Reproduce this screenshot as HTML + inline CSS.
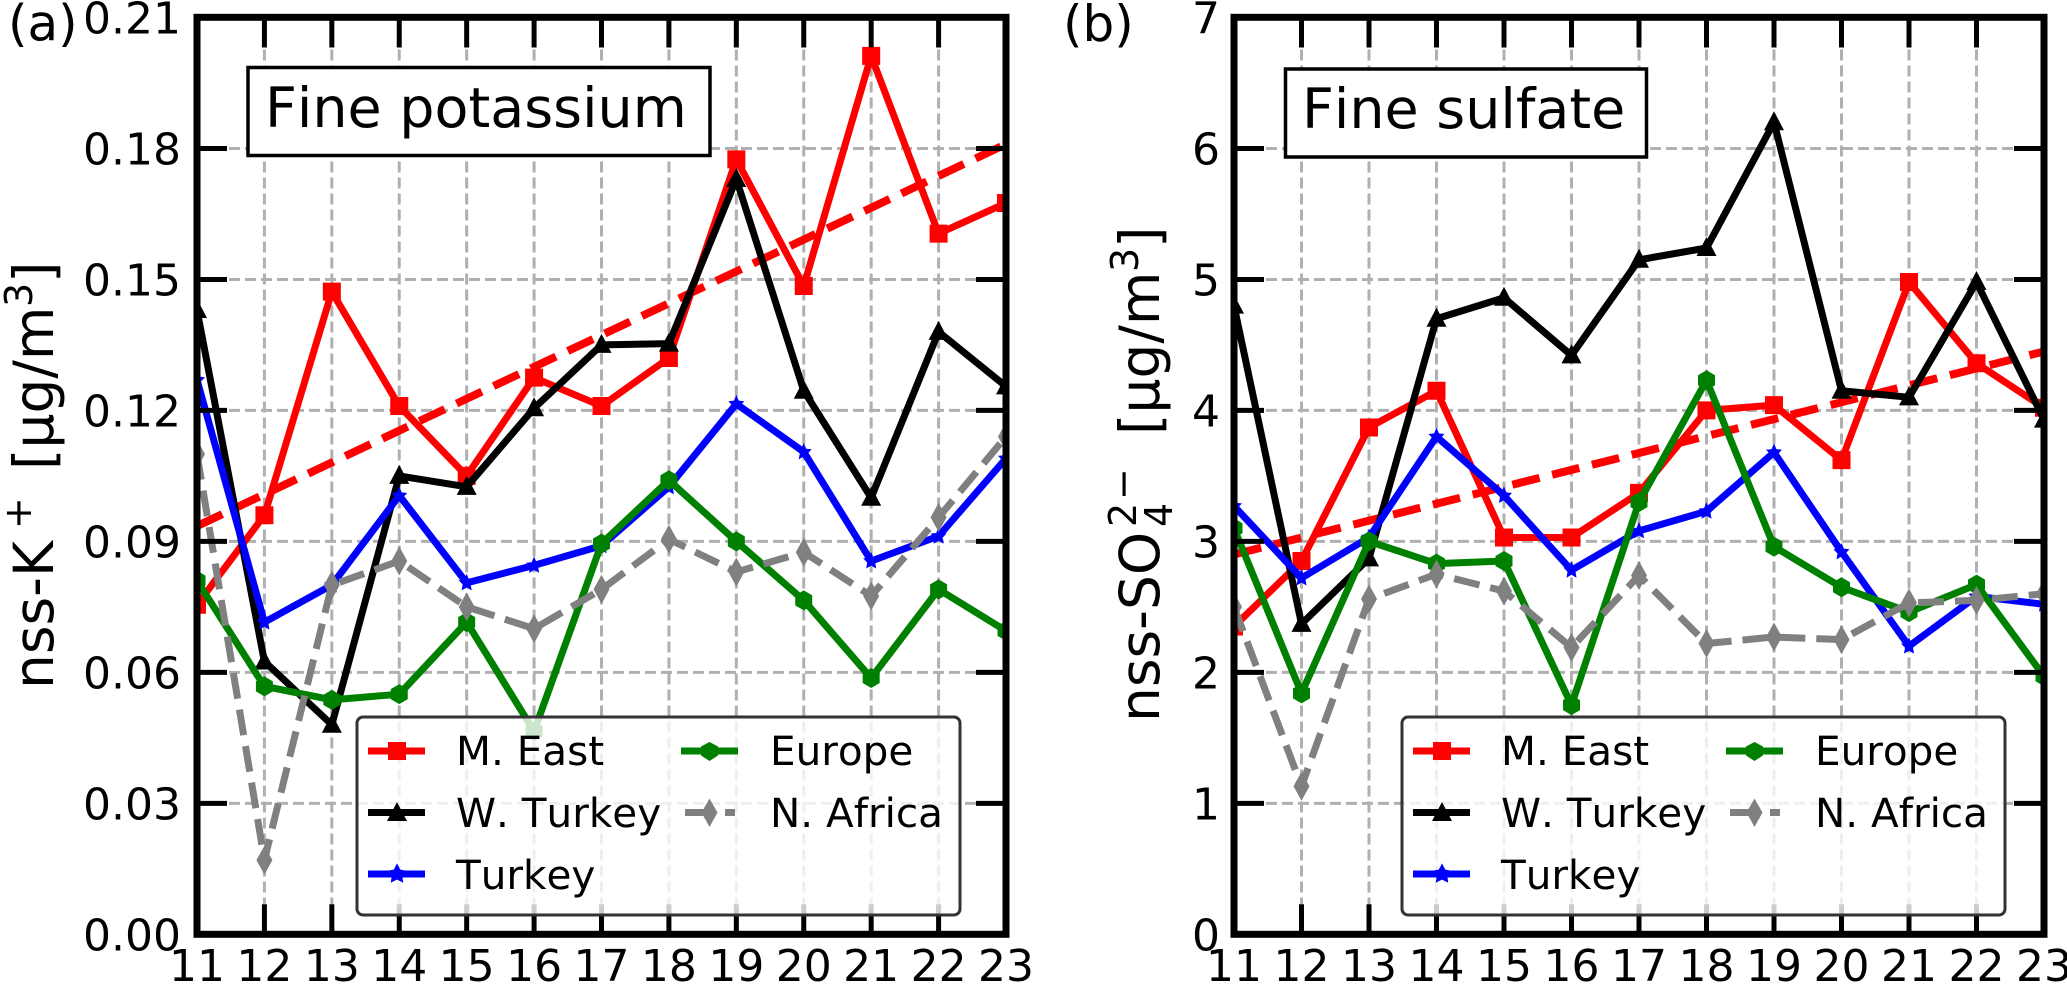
<!DOCTYPE html>
<html lang="en">
<head>
<meta charset="utf-8">
<title>Fine potassium and fine sulfate trends</title>
<style>
  html, body { margin: 0; padding: 0; background: #fff; }
  body { width: 2067px; height: 984px; overflow: hidden; }
  svg { display: block; font-family: "DejaVu Sans", "Liberation Sans", sans-serif; font-kerning: none; }
</style>
</head>
<body>
<svg id="figure" xmlns="http://www.w3.org/2000/svg" width="2067" height="984" viewBox="0 0 2067 984">
  <defs>
    <clipPath id="clip-a"><rect x="197" y="17.5" width="809" height="916.8"/></clipPath>
    <clipPath id="clip-b"><rect x="1234" y="17.5" width="810" height="916.8"/></clipPath>
  </defs>
  <rect x="0" y="0" width="2067" height="984" fill="#fff"/>

  <!-- Panel (a) -->
  <g id="panel-a">
    <g id="grid-a"></g>
    <g id="series-a" clip-path="url(#clip-a)"></g>
    <g id="ticks-a"></g>
    <g>
      <rect x="248" y="67.5" width="462" height="88" fill="#fff" stroke="#000" stroke-width="3.5"/>
      <text x="265" y="127" font-size="55.5" fill="#000">Fine potassium</text>
    </g>
    <g>
      <rect x="357" y="717" width="603" height="198" rx="6" ry="6" fill="#fff" fill-opacity="0.8" stroke="#333" stroke-width="3"/>
      <g>
        <rect x="368" y="747.5" width="57" height="7" fill="#f00"/>
        <rect x="388" y="742" width="18" height="18" fill="#f00"/>
        <text x="456" y="765" font-size="40.5">M. East</text>
      </g>
      <g>
        <rect x="368" y="809" width="57" height="7" fill="#000"/>
        <path d="M397 802 L407 821 L387 821 Z" fill="#000"/>
        <text x="456" y="827" font-size="40.5">W. Turkey</text>
      </g>
      <g>
        <rect x="368" y="870.5" width="57" height="7" fill="#00f"/>
        <path d="M397 865.5 L399.6 870.5 L405 871.5 L401.2 875.4 L402 881 L397 878.5 L392 881 L392.8 875.4 L389 871.5 L394.4 870.5 Z" fill="#00f" stroke="#00f" stroke-width="2"/>
        <text x="456" y="889" font-size="40.5">Turkey</text>
      </g>
      <g>
        <rect x="681" y="747.5" width="57" height="7" fill="#008000"/>
        <path d="M709.5 742 L718 746.5 L718 755.5 L709.5 761 L701 755.5 L701 746.5 Z" fill="#008000"/>
        <text x="770" y="765" font-size="40.5">Europe</text>
      </g>
      <g>
        <rect x="685" y="809" width="20" height="7" fill="#808080"/>
        <rect x="725" y="809" width="10" height="7" fill="#808080"/>
        <path d="M709.5 798.5 L717.5 812.5 L709.5 827 L701.5 812.5 Z" fill="#808080"/>
        <text x="770" y="827" font-size="40.5">N. Africa</text>
      </g>
    </g>
    <rect x="197" y="17.3" width="809" height="917" fill="none" stroke="#000" stroke-width="7"/>
    <text x="8" y="40.5" font-size="50">(a)</text>
    <text transform="translate(53,689) rotate(-90)" font-size="55">nss-K<tspan x="160" dy="-22" font-size="38">+</tspan><tspan x="219" dy="22">[µg/m</tspan><tspan x="382" dy="-21" font-size="38">3</tspan><tspan x="406" dy="21">]</tspan></text>
  </g>

  <!-- Panel (b) -->
  <g id="panel-b">
    <g id="grid-b"></g>
    <g id="series-b" clip-path="url(#clip-b)"></g>
    <g id="ticks-b"></g>
    <g>
      <rect x="1285.5" y="69" width="361" height="88" fill="#fff" stroke="#000" stroke-width="3.5"/>
      <text x="1302" y="128" font-size="55.5" fill="#000">Fine sulfate</text>
    </g>
    <g transform="translate(1045,0)">
      <rect x="357" y="717" width="603" height="198" rx="6" ry="6" fill="#fff" fill-opacity="0.8" stroke="#333" stroke-width="3"/>
      <g>
        <rect x="368" y="747.5" width="57" height="7" fill="#f00"/>
        <rect x="388" y="742" width="18" height="18" fill="#f00"/>
        <text x="456" y="765" font-size="40.5">M. East</text>
      </g>
      <g>
        <rect x="368" y="809" width="57" height="7" fill="#000"/>
        <path d="M397 802 L407 821 L387 821 Z" fill="#000"/>
        <text x="456" y="827" font-size="40.5">W. Turkey</text>
      </g>
      <g>
        <rect x="368" y="870.5" width="57" height="7" fill="#00f"/>
        <path d="M397 865.5 L399.6 870.5 L405 871.5 L401.2 875.4 L402 881 L397 878.5 L392 881 L392.8 875.4 L389 871.5 L394.4 870.5 Z" fill="#00f" stroke="#00f" stroke-width="2"/>
        <text x="456" y="889" font-size="40.5">Turkey</text>
      </g>
      <g>
        <rect x="681" y="747.5" width="57" height="7" fill="#008000"/>
        <path d="M709.5 742 L718 746.5 L718 755.5 L709.5 761 L701 755.5 L701 746.5 Z" fill="#008000"/>
        <text x="770" y="765" font-size="40.5">Europe</text>
      </g>
      <g>
        <rect x="685" y="809" width="20" height="7" fill="#808080"/>
        <rect x="725" y="809" width="10" height="7" fill="#808080"/>
        <path d="M709.5 798.5 L717.5 812.5 L709.5 827 L701.5 812.5 Z" fill="#808080"/>
        <text x="770" y="827" font-size="40.5">N. Africa</text>
      </g>
    </g>
    <rect x="1234" y="17.3" width="810" height="917" fill="none" stroke="#000" stroke-width="7"/>
    <text x="1063" y="41" font-size="50">(b)</text>
    <text transform="translate(1159,722) rotate(-90)" font-size="55">nss-SO<tspan x="195" dy="13" font-size="38">4</tspan><tspan x="195" dy="-36" font-size="38">2</tspan><tspan x="222" font-size="38">−</tspan><tspan x="287" dy="23">[µg/m</tspan><tspan x="450" dy="-21" font-size="38">3</tspan><tspan x="474" dy="21">]</tspan></text>
  </g>
</svg>

<script>
// Shared x categories and tick labels
const years = [11, 12, 13, 14, 15, 16, 17, 18, 19, 20, 21, 22, 23];
const potassiumTicks = ['0.00', '0.03', '0.06', '0.09', '0.12', '0.15', '0.18', '0.21'];
const sulfateTicks = ['0', '1', '2', '3', '4', '5', '6', '7'];

// Panel (a) nss-K+ series
const potassiumMEast = [0.0755, 0.096, 0.1472, 0.121, 0.105, 0.1275, 0.121, 0.132, 0.1775, 0.1485, 0.2012, 0.1605, 0.1675];
const potassiumWTurkey = [0.143, 0.0625, 0.048, 0.105, 0.1025, 0.1205, 0.135, 0.1353, 0.173, 0.1245, 0.1, 0.138, 0.1255];
const potassiumTurkey = [0.127, 0.0715, 0.08, 0.1005, 0.0805, 0.0845, 0.089, 0.1025, 0.1215, 0.1105, 0.0855, 0.0912, 0.109];
const potassiumEurope = [0.081, 0.0568, 0.0537, 0.055, 0.0715, 0.0465, 0.0895, 0.104, 0.09, 0.0765, 0.0587, 0.079, 0.0695];
const potassiumNAfrica = [0.11, 0.017, 0.08, 0.0855, 0.075, 0.07, 0.079, 0.0905, 0.083, 0.0875, 0.0775, 0.0955, 0.114];
const potassiumTrendYears = [11, 23];
const potassiumTrend = [0.0935, 0.181];

// Panel (b) nss-SO4 series
const sulfateMEast = [2.35, 2.85, 3.87, 4.15, 3.03, 3.03, 3.37, 4.0, 4.04, 3.62, 4.98, 4.36, 4.02];
const sulfateWTurkey = [4.8, 2.37, 2.87, 4.7, 4.86, 4.42, 5.15, 5.24, 6.2, 4.15, 4.1, 4.98, 3.93];
const sulfateTurkey = [3.27, 2.72, 3.03, 3.8, 3.35, 2.78, 3.08, 3.23, 3.68, 2.92, 2.2, 2.58, 2.52];
const sulfateEurope = [3.1, 1.84, 3.0, 2.83, 2.85, 1.75, 3.3, 4.23, 2.96, 2.65, 2.46, 2.67, 1.97];
const sulfateNAfrica = [2.5, 1.13, 2.56, 2.75, 2.62, 2.19, 2.74, 2.22, 2.27, 2.25, 2.53, 2.55, 2.6];
const sulfateTrendYears = [11, 23];
const sulfateTrend = [2.9, 4.45];

const NS = 'http://www.w3.org/2000/svg';

function makeEl(tag, attrs) {
  const el = document.createElementNS(NS, tag);
  for (const k in attrs) el.setAttribute(k, attrs[k]);
  return el;
}

const markerPaths = {
  square: 'M-9 -9 H9 V9 H-9 Z',
  triangle: 'M0 -11 L10 8 L-10 8 Z',
  star: 'M0 -9 L2.4 -3.2 L8 -2.6 L4 1.6 L5 7.5 L0 4.6 L-5 7.5 L-4 1.6 L-8 -2.6 L-2.4 -3.2 Z',
  hexagon: 'M0 -10 L8.5 -5 L8.5 5 L0 10 L-8.5 5 L-8.5 -5 Z',
  diamond: 'M0 -14.5 L8 0 L0 14.5 L-8 0 Z'
};

function drawPanel(cfg) {
  const xOf = function (v) { return cfg.left + (v - years[0]) / (years[years.length - 1] - years[0]) * (cfg.right - cfg.left); };
  const yOf = function (v) { return cfg.bottom - (v / cfg.yMax) * (cfg.bottom - cfg.top); };
  const grid = document.getElementById(cfg.gridId);
  const ticks = document.getElementById(cfg.ticksId);
  const host = document.getElementById(cfg.seriesId);

  years.forEach(function (yr) {
    const px = xOf(yr);
    if (yr !== years[0] && yr !== years[years.length - 1]) {
      const g = makeEl('line', { x1: px, x2: px, y1: cfg.top, y2: cfg.bottom, stroke: '#b0b0b0', 'stroke-width': 3, 'stroke-dasharray': '11 5' });
      
      
      grid.appendChild(g);
      const t1 = makeEl('line', { x1: px, x2: px, y1: cfg.bottom, y2: cfg.bottom - 30, stroke: '#000', 'stroke-width': 5 });
      
      
      ticks.appendChild(t1);
      const t2 = makeEl('line', { x1: px, x2: px, y1: cfg.top, y2: cfg.top + 30, stroke: '#000', 'stroke-width': 5 });
      
      
      ticks.appendChild(t2);
    }
    const lab = makeEl('text', { x: px, y: 981, 'font-size': 44, 'text-anchor': 'middle' });
    lab.textContent = String(yr);
    
    
    ticks.appendChild(lab);
  });

  cfg.yTicks.forEach(function (label) {
    const val = parseFloat(label);
    const py = yOf(val);
    if (val > 0 && val < cfg.yMax) {
      const g = makeEl('line', { x1: cfg.left, x2: cfg.right, y1: py, y2: py, stroke: '#b0b0b0', 'stroke-width': 3, 'stroke-dasharray': '11 5' });
      
      
      grid.appendChild(g);
      const t1 = makeEl('line', { x1: cfg.left, x2: cfg.left + 30, y1: py, y2: py, stroke: '#000', 'stroke-width': 5 });
      
      
      ticks.appendChild(t1);
      const t2 = makeEl('line', { x1: cfg.right, x2: cfg.right - 30, y1: py, y2: py, stroke: '#000', 'stroke-width': 5 });
      
      
      ticks.appendChild(t2);
    }
    const lab = makeEl('text', { x: cfg.labelX, y: py + 16, 'font-size': 44, 'text-anchor': 'end' });
    lab.textContent = label;
    
    
    ticks.appendChild(lab);
  });

  const trendPts = cfg.trendYears.map(function (yr, i) { return xOf(yr) + ',' + yOf(cfg.trend[i]); }).join(' ');
  const trendLine = makeEl('polyline', { points: trendPts, fill: 'none', stroke: '#f00', 'stroke-width': 8, 'stroke-dasharray': '28 13' });
  
  
  host.appendChild(trendLine);

  cfg.series.forEach(function (s) {
    const g = makeEl('g', {});
    
    
    const pts = s.values.map(function (v, i) { return xOf(years[i]) + ',' + yOf(v); }).join(' ');
    const attrs = { points: pts, fill: 'none', stroke: s.color, 'stroke-width': 7, 'stroke-linejoin': 'round' };
    if (s.dashed) attrs['stroke-dasharray'] = '26 11';
    const line = makeEl('polyline', attrs);
    
    
    g.appendChild(line);
    s.values.forEach(function (v, i) {
      const m = makeEl('path', { d: markerPaths[s.marker], fill: s.color, transform: 'translate(' + xOf(years[i]) + ',' + yOf(v) + ')' });
      
      
      g.appendChild(m);
    });
    host.appendChild(g);
  });
}

drawPanel({
  gridId: 'grid-a', ticksId: 'ticks-a', seriesId: 'series-a',
  left: 197, right: 1006, top: 17.5, bottom: 934.3, yMax: 0.21, labelX: 181,
  yTicks: potassiumTicks, trendYears: potassiumTrendYears, trend: potassiumTrend,
  series: [
    { key: 'm-east', values: potassiumMEast, color: '#f00', marker: 'square' },
    { key: 'w-turkey', values: potassiumWTurkey, color: '#000', marker: 'triangle' },
    { key: 'turkey', values: potassiumTurkey, color: '#00f', marker: 'star' },
    { key: 'europe', values: potassiumEurope, color: '#008000', marker: 'hexagon' },
    { key: 'n-africa', values: potassiumNAfrica, color: '#808080', marker: 'diamond', dashed: true }
  ]
});

drawPanel({
  gridId: 'grid-b', ticksId: 'ticks-b', seriesId: 'series-b',
  left: 1234, right: 2044, top: 17.5, bottom: 934.3, yMax: 7, labelX: 1220,
  yTicks: sulfateTicks, trendYears: sulfateTrendYears, trend: sulfateTrend,
  series: [
    { key: 'm-east', values: sulfateMEast, color: '#f00', marker: 'square' },
    { key: 'w-turkey', values: sulfateWTurkey, color: '#000', marker: 'triangle' },
    { key: 'turkey', values: sulfateTurkey, color: '#00f', marker: 'star' },
    { key: 'europe', values: sulfateEurope, color: '#008000', marker: 'hexagon' },
    { key: 'n-africa', values: sulfateNAfrica, color: '#808080', marker: 'diamond', dashed: true }
  ]
});
</script>
</body>
</html>
